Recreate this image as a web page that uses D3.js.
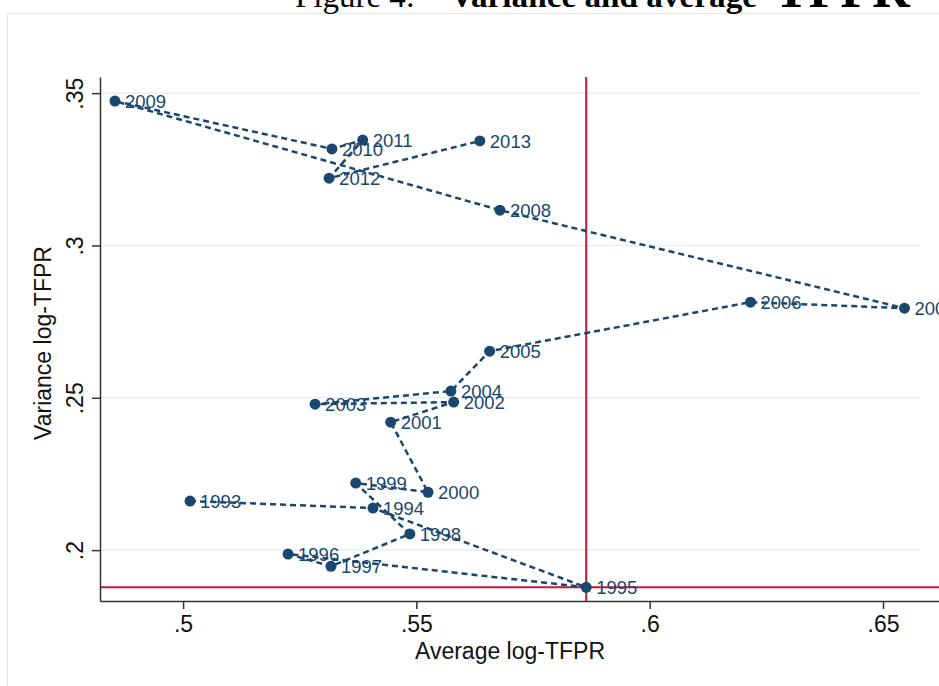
<!DOCTYPE html>
<html>

<head>
	<title>Variance and average TFPR</title>
	<style>
		html,
		body {
			margin: 0;
			background: white;
		}
		text {
			font-family: Arial, "Liberation Sans", sans-serif;
		}
	</style>
	<script src="https://cdn.jsdelivr.net/npm/d3@7/dist/d3.min.js"></script>
</head>

<body>
	<svg id="svg" width="939" height="686"></svg>

	<script>
		const years = [1993, 1994, 1995, 1996, 1997, 1998, 1999, 2000, 2001, 2002, 2003,
			2004, 2005, 2006, 2007, 2008, 2009, 2010, 2011, 2012, 2013];
		const avgTFPR = [0.5015, 0.5407, 0.5864, 0.5225, 0.5317, 0.5486, 0.5370, 0.5525, 0.5445, 0.5580, 0.5283,
			0.5574, 0.5657, 0.6216, 0.6546, 0.5679, 0.4854, 0.5319, 0.5385, 0.5313, 0.5636];
		const varTFPR = [0.2161, 0.2138, 0.1878, 0.1987, 0.1947, 0.2053, 0.2220, 0.2190, 0.2420, 0.2486, 0.2479,
			0.2522, 0.2653, 0.2814, 0.2794, 0.3116, 0.3474, 0.3317, 0.3346, 0.3221, 0.3343];
		const xTicks = [0.5, 0.55, 0.6, 0.65];
		const yTicks = [0.2, 0.25, 0.3, 0.35];
		// reference lines go through the 1995 point
		const refX = 0.5864, refY = 0.1878;

		const NAVY = '#1a476f';
		const RED = '#c8163c';
		const GRID = '#e6eef1';

		const svg = d3.select('#svg');
		const plotLeft = 100, plotRight = 939, plotTop = 77, plotBottom = 601;

		const x = d3.scaleLinear().domain([0.4822, 0.662]).range([plotLeft, plotRight]);
		const y = d3.scaleLinear().domain([0.1833, 0.3553]).range([plotBottom, plotTop]);
		const fmt = d => String(d).replace(/^0/, '');

		//outer graph region border
		svg.append('rect')
			.attr('x', 7.5).attr('y', 13.5)
			.attr('width', 1000).attr('height', 1000)
			.attr('fill', 'white')
			.attr('stroke', '#e6e6e6');

		//title (only lower part shows in the picture)
		const title = svg.append('g')
			.attr('font-size', 32);
		const serif = '"Liberation Serif", "DejaVu Serif", serif';
		title.append('text').attr('x', 295).attr('y', 7)
			.attr('textLength', 120).attr('lengthAdjust', 'spacingAndGlyphs').style('font-family', serif)
			.text('Figure 4:');
		title.append('text').attr('x', 450).attr('y', 7)
			.attr('textLength', 307).attr('lengthAdjust', 'spacingAndGlyphs')
			.attr('font-weight', 'bold').style('font-family', serif)
			.text('Variance and average');
		title.append('text').attr('x', 774).attr('y', 7)
			.attr('font-size', 52)
			.attr('font-weight', 'bold').style('font-family', serif)
			.text('TFPR');

		//gridlines
		svg.append('g').selectAll('line').data(yTicks).join('line')
			.attr('x1', plotLeft + 1).attr('x2', 920)
			.attr('y1', d => y(d)).attr('y2', d => y(d))
			.attr('stroke', GRID).attr('stroke-width', 1.5);

		//reference lines
		svg.append('line')
			.attr('x1', plotLeft).attr('x2', plotRight)
			.attr('y1', y(refY)).attr('y2', y(refY))
			.attr('stroke', RED).attr('stroke-width', 2);
		svg.append('line')
			.attr('x1', x(refX)).attr('x2', x(refX))
			.attr('y1', plotTop).attr('y2', plotBottom)
			.attr('stroke', RED).attr('stroke-width', 2);

		//axes
		const xAxis = svg.append('g')
			.attr('transform', `translate(0,${plotBottom})`)
			.call(d3.axisBottom(x).tickValues(xTicks).tickFormat(fmt).tickSize(8).tickSizeOuter(0));
		xAxis.select('.domain').attr('stroke', '#333').attr('stroke-width', 1.5);
		xAxis.selectAll('.tick line').attr('stroke', '#333').attr('stroke-width', 1.5);
		xAxis.selectAll('.tick text')
			.attr('font-size', 23).attr('fill', '#111').attr('dy', '0.75em').attr('y', 14);

		const yAxis = svg.append('g')
			.attr('transform', `translate(${plotLeft},0)`)
			.call(d3.axisLeft(y).tickValues(yTicks).tickFormat(fmt).tickSize(8).tickSizeOuter(0));
		yAxis.select('.domain').attr('stroke', '#333').attr('stroke-width', 1.5);
		yAxis.selectAll('.tick line').attr('stroke', '#333').attr('stroke-width', 1.5);
		yAxis.selectAll('.tick text')
			.attr('font-size', 23).attr('fill', '#111')
			.attr('x', null).attr('dy', null)
			.attr('text-anchor', 'middle')
			.attr('transform', 'translate(-17,0) rotate(-90)');

		svg.append('text')
			.attr('x', 510).attr('y', 659)
			.attr('text-anchor', 'middle').attr('font-size', 23).attr('fill', '#111')
			.text('Average log-TFPR');
		svg.append('text')
			.attr('transform', `translate(51,${(plotTop + plotBottom) / 2 + 4}) rotate(-90)`)
			.attr('text-anchor', 'middle').attr('font-size', 23).attr('fill', '#111')
			.text('Variance log-TFPR');

		//connected scatter
		const pts = years.map((yr, i) => ({ yr, ax: avgTFPR[i], vr: varTFPR[i] }));

		svg.append('path')
			.datum(pts)
			.attr('fill', 'none')
			.attr('stroke', NAVY)
			.attr('stroke-width', 2.5)
			.attr('stroke-dasharray', '6,4')
			.attr('d', d3.line().x(d => x(d.ax)).y(d => y(d.vr)));

		svg.append('g').selectAll('text').data(pts).join('text')
			.attr('x', d => x(d.ax) + 10)
			.attr('y', d => y(d.vr))
			.attr('dy', '0.36em')
			.attr('font-size', 18.5)
			.attr('fill', NAVY)
			.text(d => d.yr);

		svg.append('g').selectAll('circle').data(pts).join('circle')
			.attr('cx', d => x(d.ax))
			.attr('cy', d => y(d.vr))
			.attr('r', 5.5)
			.attr('fill', NAVY);
	</script>
</body>

</html>
